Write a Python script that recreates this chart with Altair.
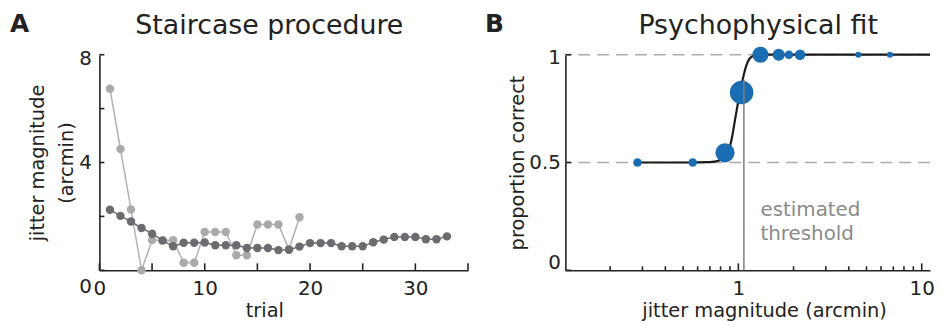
import altair as alt
import pandas as pd

FONT = "DejaVu Sans"
INK = "#222222"
LIGHT_PT = "#aaaaaa"
LIGHT_LINE = "#b2b2b2"
DARK = "#6b6b70"
BLUE = "#1a6db3"
CURVE = "#1a1a1a"
DASH = "#ababab"
THRESH = "#7d7d7d"
ANNOT = "#8a8a8a"

# ---------------- Panel A: staircase procedure ----------------
dark_trials = list(range(1, 34))
dark_vals = [2.25, 2.02, 1.81, 1.57, 1.36, 1.11, 0.89, 1.02, 1.02, 1.03, 0.93, 0.93, 0.93,
             0.83, 0.83, 0.83, 0.75, 0.76, 0.88, 1.01, 1.01, 1.01, 0.89, 0.89, 0.89,
             1.04, 1.14, 1.24, 1.24, 1.24, 1.15, 1.15, 1.26]
light_trials = list(range(1, 20))
light_vals = [6.74, 4.50, 2.26, 0.0, 1.12, 1.11, 1.12, 0.28, 0.28, 1.42, 1.42, 1.42,
              0.56, 0.56, 1.70, 1.70, 1.70, 0.78, 1.97]
a_x_domain = [0, 35]
a_y_domain = [0, 8]
a_x_tick_values = [0, 5, 10, 15, 20, 25, 30, 35]
a_x_label_values = [0, 10, 20, 30]
a_y_tick_values = [0, 2, 4, 6, 8]
a_y_label_values = [0, 4, 8]
a_letter = ["A"]
a_title = ["Staircase procedure"]

# ---------------- Panel B: psychophysical fit ----------------
b_jitter = [0.282, 0.564, 0.846, 1.042, 1.32, 1.66, 1.887, 2.17, 4.51, 6.71]
b_prop = [0.5, 0.5, 0.545, 0.825, 1.0, 1.0, 1.0, 1.0, 1.0, 1.0]
b_count = [2, 2, 10, 15, 7, 4, 2, 3, 1, 1]
fit_x = [0.282, 0.5, 0.7, 0.78, 0.83, 0.87, 0.9, 0.93, 0.96, 0.99, 1.02, 1.05, 1.08,
         1.11, 1.14, 1.18, 1.22, 1.28, 1.4, 2.0, 11.1]
fit_y = [0.5, 0.5, 0.502, 0.508, 0.52, 0.54, 0.575, 0.63, 0.70, 0.765, 0.825, 0.875, 0.92,
         0.954, 0.976, 0.99, 0.996, 0.999, 1.0, 1.0, 1.0]
ref_levels = [0.5, 1.0]
threshold_x = [1.072]
threshold_y = [0.885]
b_x_domain = [0.114, 11.1]
b_y_domain = [0, 1]
b_x_minor_ticks = [0.2, 0.3, 0.4, 0.5, 0.6, 0.7, 0.8, 0.9, 2, 3, 4, 5, 6, 7, 8, 9]
b_x_major_ticks = [1, 10]
b_y_values = [0, 0.5, 1]
b_letter = ["B"]
b_title = ["Psychophysical fit"]
annot_text = ["estimated\nthreshold"]
annot_x = [1.32]
annot_y = [0.254]

WA, WB, H = 371, 367, 217

axis_style = dict(labelFont=FONT, labelFontSize=20, labelColor=INK,
                  labelFlush=False, labelOverlap=False, grid=False,
                  domain=True, domainColor=INK, domainWidth=1.6, ticks=False,
                  titleFont=FONT, titleFontSize=19.5, titleFontWeight="normal",
                  titleColor=INK)


def x_ticks(values, scale, yscale, ybase, length):
    """Inward-pointing x-axis ticks, placed through the scales."""
    return alt.Chart(pd.DataFrame({"v": values})).mark_tick(
        orient="vertical", size=length, thickness=1.6, color=INK, opacity=1,
        yOffset=-length / 2).encode(
        x=alt.X("v:Q", scale=scale, axis=None),
        y=alt.datum(ybase, scale=yscale, axis=None))


def y_ticks(values, scale, xscale, xbase, length):
    """Inward-pointing y-axis ticks, placed through the scales."""
    return alt.Chart(pd.DataFrame({"v": values})).mark_tick(
        orient="horizontal", size=length, thickness=1.6, color=INK, opacity=1,
        xOffset=length / 2).encode(
        y=alt.Y("v:Q", scale=scale, axis=None),
        x=alt.datum(xbase, scale=xscale, axis=None))


# ----- Panel A layers
dfA_dark = pd.DataFrame({"trial": dark_trials, "val": dark_vals})
dfA_light = pd.DataFrame({"trial": light_trials, "val": light_vals})
xA = alt.Scale(domain=a_x_domain, nice=False, zero=False)
yA = alt.Scale(domain=a_y_domain, nice=False)

a_main = alt.Chart(dfA_light).mark_line(color=LIGHT_LINE, strokeWidth=1.5).encode(
    x=alt.X("trial:Q", scale=xA, axis=alt.Axis(
        orient="bottom", values=a_x_label_values, labelPadding=8, format="d",
        title="trial", titlePadding=3, titleX=166, **axis_style)),
    y=alt.Y("val:Q", scale=yA, axis=alt.Axis(
        orient="left", values=a_y_label_values, labelPadding=8, format="d",
        labelOffset={"condition": [{"test": "datum.value === 0", "value": 16},
                                   {"test": "datum.value === 8", "value": 4}], "value": 0},
        title=["jitter magnitude", "(arcmin)"], titleLineHeight=30, titlePadding=2,
        **axis_style)),
)
a_xt = x_ticks(a_x_tick_values, xA, yA, a_y_domain[0], 7)
a_yt = y_ticks(a_y_tick_values, yA, xA, a_x_domain[0], 5)
a_light_pts = alt.Chart(dfA_light).mark_circle(color=LIGHT_PT, opacity=1, size=72).encode(
    x=alt.X("trial:Q", scale=xA, axis=None), y=alt.Y("val:Q", scale=yA, axis=None))
a_dark_line = alt.Chart(dfA_dark).mark_line(color=DARK, strokeWidth=1.5).encode(
    x=alt.X("trial:Q", scale=xA, axis=None), y=alt.Y("val:Q", scale=yA, axis=None))
a_dark_pts = alt.Chart(dfA_dark).mark_circle(color=DARK, opacity=1, size=72).encode(
    x=alt.X("trial:Q", scale=xA, axis=None), y=alt.Y("val:Q", scale=yA, axis=None))
a_letter_mark = alt.Chart(pd.DataFrame({"t": a_letter})).mark_text(
    align="left", baseline="alphabetic", font=FONT, fontSize=25, fontWeight="bold",
    color=INK).encode(x=alt.value(-90), y=alt.value(-23), text="t:N")
a_title_mark = alt.Chart(pd.DataFrame({"t": a_title})).mark_text(
    align="center", baseline="alphabetic", font=FONT, fontSize=27, color=INK).encode(
    x=alt.value(171), y=alt.value(-21), text="t:N")

panelA = alt.layer(a_main, a_xt, a_yt, a_light_pts, a_dark_line, a_dark_pts,
                   a_letter_mark, a_title_mark).resolve_axis(
    x="independent", y="independent").properties(width=WA, height=H)

# ----- Panel B layers
xB = alt.Scale(type="log", domain=b_x_domain, nice=False)
yB = alt.Scale(domain=b_y_domain, nice=False)
dfB = pd.DataFrame({"jit": b_jitter, "prop": b_prop, "n": b_count})
dfFit = pd.DataFrame({"jit": fit_x, "prop": fit_y})
dfRef = pd.DataFrame({"lvl": ref_levels})
dfThr = pd.DataFrame({"jit": threshold_x, "top": threshold_y, "bottom": [0.0]})
dfAnn = pd.DataFrame({"jit": annot_x, "prop": annot_y, "t": annot_text})

b_main = alt.Chart(dfFit).mark_line(color=CURVE, strokeWidth=2.2, interpolate="monotone").encode(
    x=alt.X("jit:Q", scale=xB, axis=alt.Axis(
        orient="bottom", values=b_x_major_ticks, labelPadding=8, format="~g",
        title="jitter magnitude (arcmin)", titlePadding=3, titleX=200, **axis_style)),
    y=alt.Y("prop:Q", scale=yB, axis=alt.Axis(
        orient="left", values=b_y_values, labelPadding=5, format="~g",
        labelOffset={"condition": [{"test": "datum.value === 0", "value": -8},
                                   {"test": "datum.value === 1", "value": 3}], "value": 0},
        title="proportion correct", titlePadding=1, **axis_style)),
)
b_ref = alt.Chart(dfRef).mark_rule(color=DASH, strokeWidth=1.5, strokeDash=[12, 7]).encode(
    y=alt.Y("lvl:Q", scale=yB, axis=None))
b_xt_minor = x_ticks(b_x_minor_ticks, xB, yB, b_y_domain[0], 4)
b_xt_major = x_ticks(b_x_major_ticks, xB, yB, b_y_domain[0], 7)
b_yt = y_ticks(b_y_values, yB, xB, b_x_domain[0], 6)
b_pts = alt.Chart(dfB).mark_circle(color=BLUE, opacity=1).encode(
    x=alt.X("jit:Q", scale=xB, axis=None),
    y=alt.Y("prop:Q", scale=yB, axis=None),
    size=alt.Size("n:Q", scale=alt.Scale(domain=[0, 15], range=[0, 560]), legend=None))
b_thr = alt.Chart(dfThr).mark_rule(color=THRESH, strokeWidth=1.5).encode(
    x=alt.X("jit:Q", scale=xB, axis=None),
    y=alt.Y("bottom:Q", scale=yB, axis=None), y2="top:Q")
b_ann = alt.Chart(dfAnn).mark_text(
    align="left", baseline="alphabetic", font=FONT, fontSize=20, color=ANNOT,
    lineBreak="\n", lineHeight=25).encode(
    x=alt.X("jit:Q", scale=xB, axis=None), y=alt.Y("prop:Q", scale=yB, axis=None), text="t:N")
b_letter_mark = alt.Chart(pd.DataFrame({"t": b_letter})).mark_text(
    align="left", baseline="alphabetic", font=FONT, fontSize=25, fontWeight="bold",
    color=INK).encode(x=alt.value(-81), y=alt.value(-23), text="t:N")
b_title_mark = alt.Chart(pd.DataFrame({"t": b_title})).mark_text(
    align="center", baseline="alphabetic", font=FONT, fontSize=27, color=INK).encode(
    x=alt.value(194), y=alt.value(-21), text="t:N")

# b_ref drawn first (underneath), the main curve layer carries the axes
panelB = alt.layer(b_ref, b_main, b_xt_minor, b_xt_major, b_yt, b_pts, b_thr, b_ann,
                   b_letter_mark, b_title_mark).resolve_axis(
    x="independent", y="independent").properties(width=WB, height=H)

chart = alt.hconcat(panelA, panelB, spacing=16).properties(
    padding={"left": 2, "top": 3, "right": 0, "bottom": 0}
).configure_view(stroke=None).configure_axis(grid=False)

chart.save("out.html", embed_options={"renderer": "svg", "actions": False})
